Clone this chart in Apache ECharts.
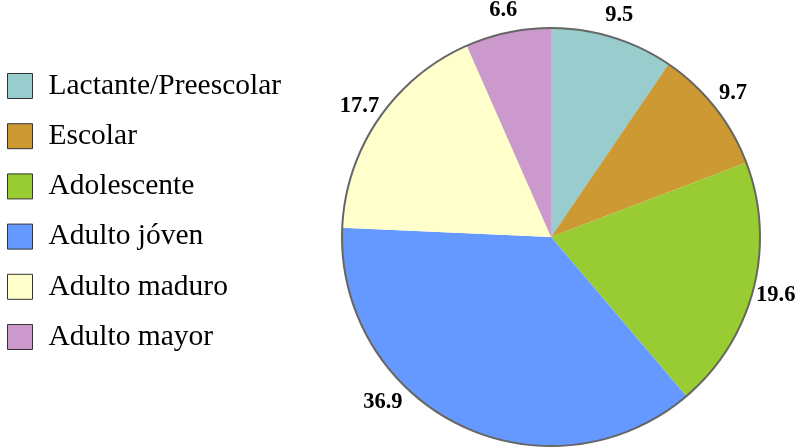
<!DOCTYPE html>
<html>
<head>
<meta charset="utf-8">
<script src="https://cdn.jsdelivr.net/npm/echarts@6/dist/echarts.min.js"></script>
<style>html,body{margin:0;padding:0;background:#fff}#c{width:808px;height:448px}</style>
</head>
<body>
<div id="c"></div>
<script>
var categories = ['Lactante/Preescolar', 'Escolar', 'Adolescente', 'Adulto jóven', 'Adulto maduro', 'Adulto mayor'];
var values = [9.5, 9.7, 19.6, 36.9, 17.7, 6.6];
var colors = ['#99CCCC', '#CC9933', '#99CC33', '#6699FF', '#FFFFCC', '#CC99CC'];

var FONT = '"Liberation Serif", "Times New Roman", serif';
var CENTER = [551, 237];
var R = 209;

var pieData = categories.map(function (n, i) {
  return { name: n, value: values[i], itemStyle: { color: colors[i] } };
});
var labelData = categories.map(function (n, i) {
  return { name: n, value: values[i] };
});

var chart = echarts.init(document.getElementById('c'), null, { renderer: 'canvas' });
chart.setOption({
  animation: false,
  backgroundColor: '#ffffff',
  legend: {
    data: categories,
    orient: 'vertical',
    left: 7,
    top: 71,
    padding: 0,
    itemWidth: 25,
    itemHeight: 25,
    itemGap: 20.2,
    icon: 'rect',
    selectedMode: false,
    itemStyle: { borderColor: '#333333', borderWidth: 1 },
    textStyle: { fontFamily: FONT, fontSize: 29.5, color: '#000', padding: [0, 0, 0, 11] }
  },
  series: [
    {
      type: 'pie',
      name: 'main',
      center: CENTER,
      radius: R,
      startAngle: 90,
      clockwise: true,
      silent: true,
      label: { show: false },
      labelLine: { show: false },
      itemStyle: { borderWidth: 0 },
      emphasis: { disabled: true },
      data: pieData
    },
    {
      type: 'pie',
      name: 'outline',
      center: CENTER,
      radius: R,
      silent: true,
      label: { show: false },
      labelLine: { show: false },
      itemStyle: { color: 'rgba(0,0,0,0)', borderColor: '#666666', borderWidth: 2 },
      emphasis: { disabled: true },
      data: [{ name: '', value: 1 }]
    },
    {
      type: 'pie',
      name: 'labels',
      center: CENTER,
      radius: [R, 249],
      startAngle: 90,
      clockwise: true,
      silent: true,
      itemStyle: { color: 'rgba(0,0,0,0)', borderWidth: 0 },
      emphasis: { disabled: true },
      labelLine: { show: false },
      label: {
        show: true,
        position: 'inside',
        formatter: function (p) { return p.value.toFixed(1); },
        fontFamily: FONT,
        fontSize: 22.5,
        fontWeight: 'bold',
        color: '#000'
      },
      labelLayout: function (p) {
        if (p.dataIndex === 3) { return { dx: -66, dy: -43 }; }
        return {};
      },
      data: labelData
    }
  ]
});
</script>
</body>
</html>
